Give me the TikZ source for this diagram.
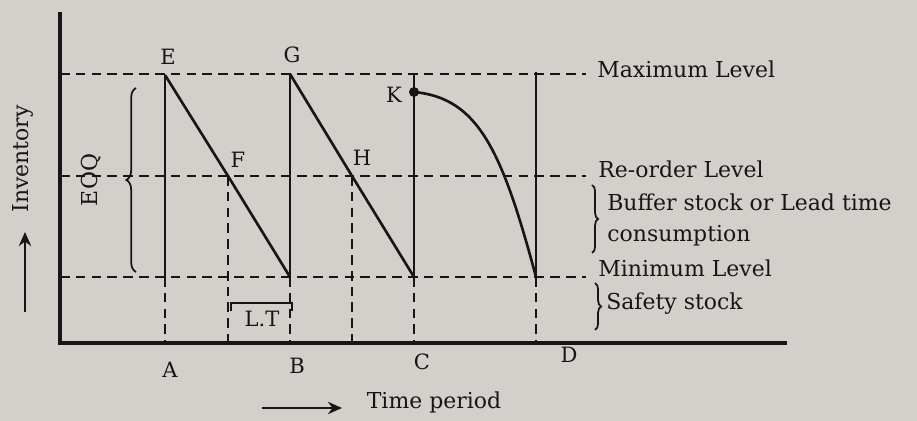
\documentclass[tikz,border=0pt]{standalone}
\usepackage{fontspec}
\setmainfont{DejaVu Serif}
\usetikzlibrary{arrows.meta,positioning,calc,decorations.pathreplacing}
\definecolor{paper}{HTML}{D3D0CB}
\definecolor{ink}{HTML}{161616}
\tikzset{
  axisline/.style={draw=ink, line width=1.9pt},
  stockline/.style={draw=ink, line width=1.5pt},
  levelline/.style={draw=ink, line width=1.5pt, dash pattern=on 5.5pt off 3.5pt},
  guide/.style={levelline},
  ltbar/.style={draw=ink, line width=1.7pt},
  brc/.style={draw=ink, line width=1pt, decorate, decoration={brace, amplitude=#1}},
  brc/.default=4pt,
  ar/.style={-{Stealth[length=8pt, width=7pt]}, draw=ink, line width=1.6pt},
  lvl/.style={font=\fontsize{12.5}{18}\selectfont, text=ink, inner sep=0pt},
  ptlbl/.style={font=\fontsize{12}{14}\selectfont, text=ink, inner sep=0pt}
}
\begin{document}
\begin{tikzpicture}[x=0.02cm, y=-0.02cm]
  \fill[paper] (0,0) rectangle (917,421);
  \useasboundingbox (0,0) rectangle (917,421);

  \coordinate (O) at (60,343);
  \coordinate (ytop) at (60,12);
  \coordinate (xend) at (787,343);
  \draw[axisline] (ytop) -- (O) -- (xend);

  \foreach \lv/\y in {max/74, rol/176, min/277} {
    \coordinate (\lv L) at (60,\y);
    \coordinate (\lv R) at (586,\y);
    \draw[levelline] (\lv L) -- (\lv R);
  }

  \foreach \n/\x/\top/\lx/\ly in {A/165/75/170/370, B/290/74/297/366,
                                  C/414/73/422/362, D/536/72/569/355} {
    \coordinate (top\n) at (\x,\top);
    \coordinate (low\n) at (\x,277);
    \coordinate (base\n) at (\x,343);
    \draw[stockline] (top\n) -- (low\n);
    \draw[guide] (low\n) -- (base\n);
    \node[ptlbl] (lbl\n) at (\lx,\ly) {\n};
  }

  \coordinate (F) at (228,176);
  \coordinate (H) at (352,176);
  \coordinate (K) at (414,92);
  \coordinate (baseF) at (228,343);
  \coordinate (baseH) at (352,343);
  \draw[stockline] (topA) -- (F) -- (lowB);
  \draw[stockline] (topB) -- (H) -- (lowC);
  \draw[guide] (F) -- (baseF);
  \draw[guide] (H) -- (baseH);
  \draw[stockline] (K) .. controls (478,98) and (502,150) .. (lowD);
  \fill[ink] (K) circle[radius=0.1cm];

  \node[ptlbl] (lblE) at (168,57) {E};
  \node[ptlbl] (lblG) at (292,55) {G};
  \node[ptlbl] (lblF) at (238,160) {F};
  \node[ptlbl] (lblH) at (362,158) {H};
  \node[ptlbl] (lblK) at (394,95) {K};

  % lead time
  \coordinate (ltL) at (231,311);
  \coordinate (ltR) at (292,311);
  \draw[ltbar] (ltL) -- (231,303) -- (292,303) -- (ltR);
  \node[ptlbl] (lt) at (262,319) {L.T};

  % braces
  \coordinate (eoqB) at (136,272);
  \coordinate (eoqT) at (136,88);
  \draw[brc=5.5pt] (eoqB) -- (eoqT);
  \node[lvl, rotate=90] (eoq) at (91,180) {EOQ};
  \coordinate (bufT) at (592,185);
  \coordinate (bufB) at (592,253);
  \draw[brc=3.5pt] (bufT) -- (bufB);
  \coordinate (safT) at (595,283);
  \coordinate (safB) at (595,330);
  \draw[brc=3.5pt] (safT) -- (safB);

  \node[lvl, anchor=west] (maxlbl) at (597,69) {Maximum Level};
  \node[lvl, anchor=west] (rollbl) at (598,169) {Re-order Level};
  \node[lvl, anchor=west] (minlbl) at (598,268) {Minimum Level};
  \node[lvl, anchor=west, align=left] (buflbl) at (607,220) {Buffer stock or Lead time\\consumption};
  \node[lvl, anchor=west] (saflbl) at (606,304) {Safety stock};

  % axis titles
  \node[lvl, rotate=90] (inv) at (23,159) {Inventory};
  \coordinate (invA) at (25,312);
  \coordinate (invB) at (25,232);
  \draw[ar] (invA) -- (invB);
  \node[lvl] (time) at (434,402) {Time period};
  \coordinate (timeA) at (262,408);
  \coordinate (timeB) at (342,408);
  \draw[ar] (timeA) -- (timeB);
\end{tikzpicture}
\end{document}
